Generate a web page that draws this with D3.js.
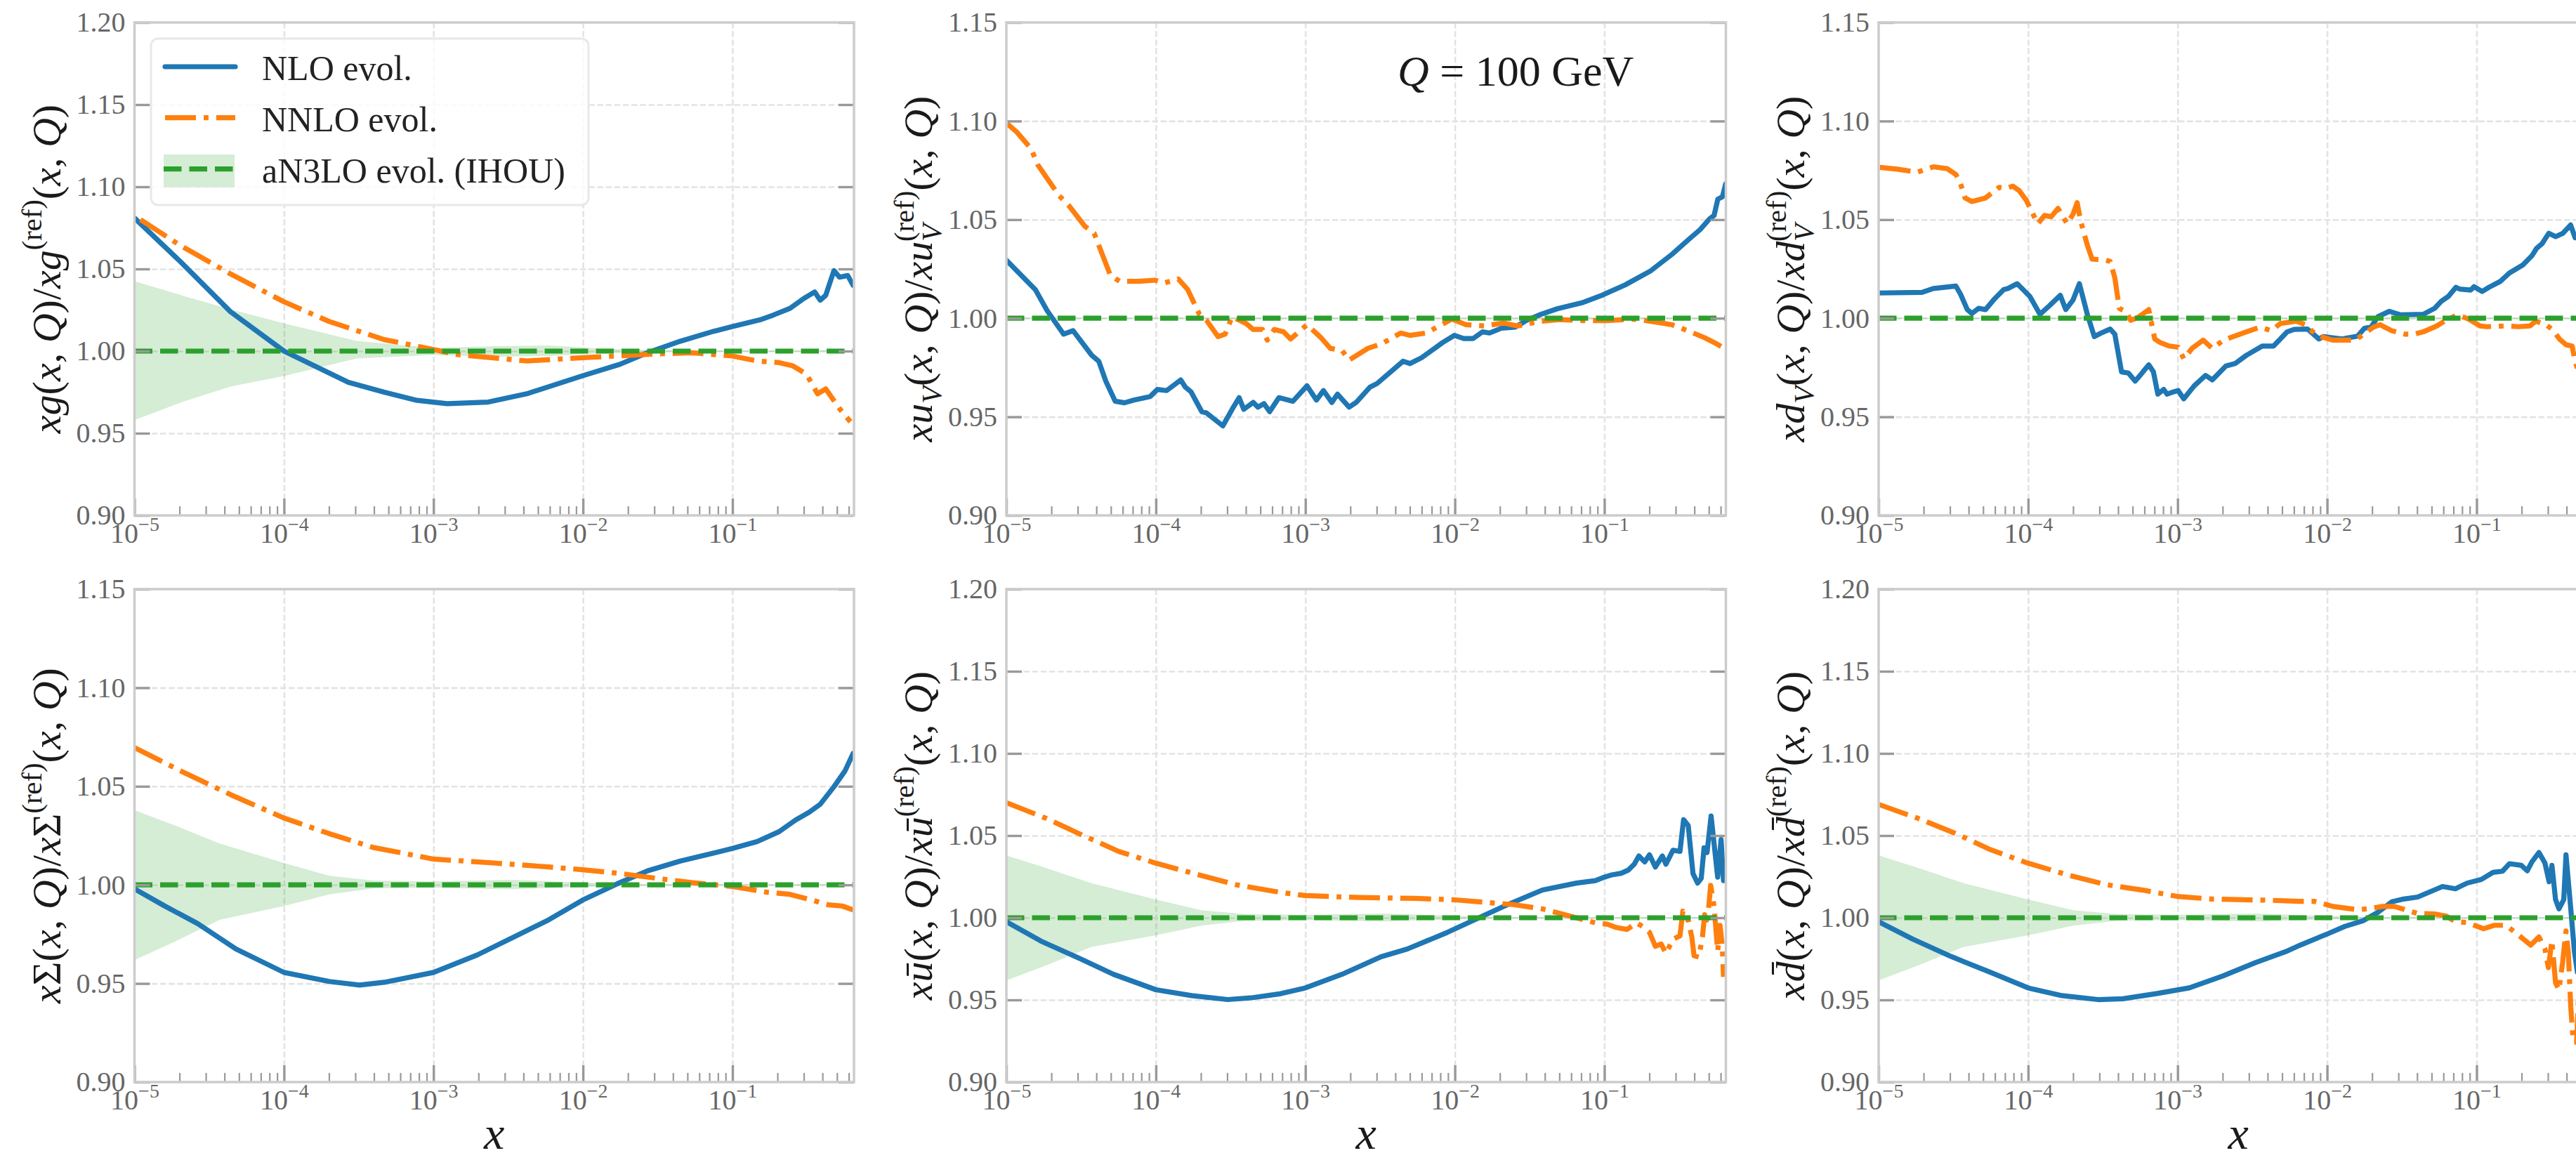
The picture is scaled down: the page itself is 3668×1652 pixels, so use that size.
<!DOCTYPE html>
<html>
<head>
<meta charset="utf-8">
<script src="https://cdn.jsdelivr.net/npm/d3@7"></script>
<style>
body { margin: 0; background: #fff; }
svg { display: block; }
</style>
</head>
<body>
<svg id="fig"></svg>
<script>

// --- xg ---
const xg_NLO = [[-5,1.081],[-4.688,1.054],[-4.358,1.024],[-4.0,1.0],[-3.569,0.981],[-3.33,0.975],[-3.11,0.970],[-2.908,0.968],[-2.633,0.969],[-2.376,0.974],[-2.002,0.985],[-1.752,0.992],[-1.569,0.999],[-1.349,1.006],[-1.128,1.012],[-1.0,1.015],[-0.817,1.019],[-0.725,1.022],[-0.615,1.026],[-0.523,1.032],[-0.45,1.036],[-0.413,1.031],[-0.376,1.034],[-0.321,1.049],[-0.284,1.045],[-0.229,1.046],[-0.193,1.040]];
const xg_NNLO = [[-4.96,1.080],[-4.688,1.064],[-4.358,1.047],[-4.0,1.030],[-3.697,1.018],[-3.33,1.007],[-3.0,1.001],[-2.853,0.998],[-2.376,0.994],[-2.0,0.996],[-1.569,0.998],[-1.275,0.999],[-1.0,0.997],[-0.835,0.994],[-0.688,0.993],[-0.596,0.991],[-0.505,0.986],[-0.431,0.974],[-0.376,0.977],[-0.284,0.965],[-0.211,0.957]];
const xg_band = [[-5,0.958,1.0425],[-4.688,0.9688,1.034],[-4.358,0.9784,1.0254],[-4.0,0.9848,1.0169],[-3.514,0.9955,1.0062],[-3.0,0.9976,1.0019],[-2.596,0.9966,1.003],[-2.229,0.997,1.0034],[-1.862,0.9987,1.0015],[-1.495,0.9996,1.0004],[-0.187,0.9996,1.0004]];

// --- xuV ---
const uV_NLO = [[-5,1.0294],[-4.806,1.0145],[-4.727,1.0038],[-4.617,0.9919],[-4.554,0.9937],[-4.429,0.9812],[-4.382,0.9782],[-4.335,0.9681],[-4.272,0.9579],[-4.21,0.9571],[-4.147,0.9585],[-4.038,0.9603],[-3.99,0.9639],[-3.928,0.9633],[-3.834,0.9687],[-3.803,0.9651],[-3.765,0.9627],[-3.693,0.9526],[-3.662,0.952],[-3.552,0.9454],[-3.49,0.9538],[-3.443,0.9597],[-3.412,0.9538],[-3.349,0.9573],[-3.318,0.9549],[-3.277,0.9567],[-3.239,0.9526],[-3.177,0.9597],[-3.083,0.9579],[-2.989,0.9657],[-2.926,0.9585],[-2.879,0.9633],[-2.823,0.9573],[-2.785,0.9615],[-2.707,0.9549],[-2.66,0.9573],[-2.567,0.9651],[-2.52,0.9669],[-2.347,0.9782],[-2.3,0.977],[-2.222,0.98],[-2.081,0.9877],[-2.003,0.9913],[-1.941,0.9897],[-1.878,0.9897],[-1.815,0.9931],[-1.768,0.9925],[-1.69,0.9949],[-1.596,0.9955],[-1.518,0.999],[-1.424,1.002],[-1.315,1.0048],[-1.142,1.008],[-1.017,1.0116],[-0.861,1.0169],[-0.689,1.0241],[-0.548,1.0324],[-0.423,1.0408],[-0.36,1.0449],[-0.297,1.0503],[-0.266,1.0521],[-0.241,1.0604],[-0.21,1.0616],[-0.188,1.0682]];
const uV_NNLO = [[-4.994,1.0986],[-4.93,1.0944],[-4.836,1.0861],[-4.789,1.0777],[-4.648,1.0622],[-4.585,1.0574],[-4.476,1.0467],[-4.413,1.0431],[-4.304,1.0217],[-4.241,1.0187],[-4.116,1.0187],[-4.006,1.0193],[-3.943,1.0179],[-3.85,1.0199],[-3.787,1.0145],[-3.709,1.002],[-3.662,0.999],[-3.584,0.9907],[-3.537,0.9919],[-3.49,1.0008],[-3.396,0.9973],[-3.349,0.9943],[-3.287,0.9943],[-3.255,0.9889],[-3.208,0.9943],[-3.146,0.9931],[-3.099,0.9895],[-2.989,0.9967],[-2.895,0.9901],[-2.833,0.9847],[-2.754,0.9836],[-2.707,0.9788],[-2.582,0.9847],[-2.488,0.9871],[-2.363,0.9925],[-2.3,0.9913],[-2.191,0.9925],[-2.019,0.9996],[-1.925,0.9967],[-1.8,0.9961],[-1.675,0.9976],[-1.581,0.9961],[-1.424,0.9985],[-1.299,0.9993],[-1.142,0.9988],[-0.986,0.9988],[-0.798,0.9996],[-0.642,0.9979],[-0.548,0.9967],[-0.423,0.9931],[-0.329,0.9901],[-0.266,0.9877],[-0.197,0.9847]];

// --- xdV ---
const dV_NLO = [[-5,1.0128],[-4.71,1.0131],[-4.634,1.0151],[-4.483,1.0163],[-4.452,1.0122],[-4.407,1.0044],[-4.376,1.0024],[-4.331,1.005],[-4.285,1.0044],[-4.225,1.0098],[-4.164,1.0145],[-4.134,1.0151],[-4.073,1.0175],[-3.988,1.011],[-3.921,1.002],[-3.86,1.0062],[-3.785,1.0116],[-3.748,1.0044],[-3.7,1.0092],[-3.657,1.0175],[-3.602,1.0014],[-3.557,0.9907],[-3.511,0.9925],[-3.451,0.9945],[-3.42,0.9919],[-3.375,0.9728],[-3.329,0.9722],[-3.284,0.9681],[-3.238,0.9722],[-3.193,0.9764],[-3.162,0.9728],[-3.132,0.9615],[-3.093,0.9639],[-3.071,0.9615],[-3.026,0.9627],[-2.996,0.9633],[-2.959,0.9591],[-2.889,0.9657],[-2.813,0.971],[-2.768,0.9687],[-2.677,0.9758],[-2.616,0.977],[-2.54,0.9812],[-2.434,0.9859],[-2.358,0.9859],[-2.267,0.9931],[-2.221,0.9943],[-2.131,0.9945],[-2.055,0.9895],[-2.024,0.9907],[-1.964,0.9901],[-1.903,0.9895],[-1.797,0.9909],[-1.751,0.9949],[-1.706,0.9955],[-1.66,1.0008],[-1.584,1.0035],[-1.508,1.0017],[-1.357,1.002],[-1.281,1.005],[-1.236,1.0086],[-1.19,1.011],[-1.138,1.0157],[-1.114,1.0148],[-1.039,1.0143],[-1.017,1.016],[-0.962,1.0136],[-0.917,1.0157],[-0.841,1.0187],[-0.781,1.0229],[-0.689,1.0271],[-0.629,1.0318],[-0.599,1.0354],[-0.562,1.0378],[-0.517,1.0431],[-0.471,1.0414],[-0.423,1.0431],[-0.371,1.0473],[-0.341,1.0408],[-0.3,1.0431]];
const dV_NNLO = [[-4.992,1.0765],[-4.877,1.0756],[-4.741,1.0741],[-4.634,1.0768],[-4.543,1.0759],[-4.483,1.0729],[-4.452,1.0682],[-4.422,1.061],[-4.376,1.0592],[-4.285,1.061],[-4.194,1.0664],[-4.149,1.0658],[-4.103,1.067],[-4.058,1.0646],[-4.012,1.0598],[-3.936,1.0479],[-3.891,1.0521],[-3.845,1.0515],[-3.8,1.0557],[-3.739,1.0479],[-3.7,1.0527],[-3.672,1.0586],[-3.648,1.0491],[-3.602,1.0366],[-3.572,1.03],[-3.481,1.0294],[-3.451,1.0288],[-3.42,1.0205],[-3.39,1.005],[-3.344,1.0032],[-3.314,0.999],[-3.269,1.0002],[-3.193,1.0044],[-3.153,0.9895],[-3.117,0.9877],[-3.056,0.9859],[-2.995,0.9853],[-2.959,0.9794],[-2.904,0.9847],[-2.829,0.9889],[-2.768,0.9847],[-2.692,0.9889],[-2.54,0.9931],[-2.449,0.9955],[-2.373,0.9937],[-2.313,0.9973],[-2.206,0.9985],[-2.146,0.9967],[-2.07,0.9913],[-1.964,0.9889],[-1.812,0.9889],[-1.766,0.9913],[-1.69,0.9955],[-1.645,0.9967],[-1.569,0.9937],[-1.478,0.9919],[-1.417,0.9919],[-1.357,0.9931],[-1.266,0.9961],[-1.205,0.999],[-1.129,1.0017],[-1.053,0.9996],[-0.977,0.9961],[-0.932,0.9957],[-0.811,0.9961],[-0.719,0.9957],[-0.643,0.9961],[-0.604,0.9985],[-0.537,0.9967],[-0.492,0.9943],[-0.446,0.9895],[-0.401,0.9865],[-0.361,0.9859],[-0.34,0.9776],[-0.3,0.9692]];
const valence_band = [[-5,0.9996,1.0004],[-0.187,0.9996,1.0004]];

// --- xSigma ---
const Sigma_NLO = [[-5,0.998],[-4.798,0.9893],[-4.578,0.9804],[-4.321,0.9675],[-4.0,0.9556],[-3.697,0.951],[-3.495,0.9492],[-3.33,0.9506],[-3.0,0.9556],[-2.706,0.9645],[-2.413,0.9754],[-2.229,0.9823],[-2.002,0.9923],[-1.752,1.0012],[-1.569,1.0071],[-1.349,1.0121],[-1.128,1.0161],[-1.0,1.0185],[-0.835,1.022],[-0.688,1.027],[-0.578,1.0329],[-0.486,1.0369],[-0.413,1.0409],[-0.321,1.0498],[-0.248,1.0577],[-0.193,1.0667]];
const Sigma_NNLO = [[-5,1.0696],[-4.688,1.0577],[-4.358,1.0458],[-4.0,1.0339],[-3.697,1.026],[-3.404,1.019],[-3.0,1.0131],[-2.596,1.0111],[-2.229,1.0091],[-2.002,1.0077],[-1.752,1.0058],[-1.495,1.0032],[-1.275,1.0012],[-1.0,0.9992],[-0.762,0.9962],[-0.615,0.9952],[-0.468,0.9923],[-0.358,0.9899],[-0.266,0.9893],[-0.193,0.9873]];
const sea_band = [[-5,0.9619,1.0379],[-4.725,0.9714,1.030],[-4.431,0.9823,1.021],[-4.0,0.9893,1.0111],[-3.697,0.9952,1.0046],[-3.404,0.9982,1.0022],[-3.0,0.9986,1.0018],[-2.486,0.9978,1.0026],[-2.0,0.999,1.0012],[-1.679,0.9996,1.0004],[-0.187,0.9996,1.0004]];

// --- xubar ---
const ubar_NLO = [[-5,0.9976],[-4.769,0.9858],[-4.507,0.9751],[-4.284,0.9656],[-4.0,0.9562],[-3.761,0.9526],[-3.519,0.9502],[-3.351,0.9514],[-3.164,0.9538],[-3.0,0.9573],[-2.754,0.9656],[-2.493,0.9763],[-2.318,0.981],[-2.05,0.9911],[-1.846,0.9997],[-1.657,1.0076],[-1.414,1.0169],[-1.186,1.0211],[-1.06,1.0226],[-1.0,1.0247],[-0.95,1.0261],[-0.887,1.0271],[-0.84,1.029],[-0.8,1.0326],[-0.769,1.0376],[-0.73,1.034],[-0.698,1.0383],[-0.659,1.0309],[-0.612,1.0376],[-0.588,1.0326],[-0.541,1.0411],[-0.494,1.0404],[-0.47,1.0597],[-0.439,1.0561],[-0.407,1.0269],[-0.376,1.0211],[-0.352,1.024],[-0.333,1.0426],[-0.313,1.0397],[-0.286,1.0619],[-0.242,1.0247],[-0.219,1.0476],[-0.203,1.0226]];
const ubar_NNLO = [[-5,1.070],[-4.731,1.0604],[-4.507,1.0509],[-4.246,1.0403],[-4.0,1.0332],[-3.761,1.0273],[-3.463,1.0201],[-3.164,1.0154],[-3.0,1.0135],[-2.642,1.0123],[-2.269,1.0118],[-2.0,1.0109],[-1.61,1.008],[-1.414,1.0054],[-1.233,1.0011],[-1.06,0.9969],[-0.981,0.9961],[-0.918,0.994],[-0.848,0.9929],[-0.785,0.9969],[-0.745,0.9947],[-0.698,0.9911],[-0.659,0.9826],[-0.62,0.984],[-0.588,0.9783],[-0.541,0.9869],[-0.494,0.989],[-0.475,1.004],[-0.439,0.9983],[-0.415,0.9883],[-0.4,0.9769],[-0.368,0.9761],[-0.344,0.9883],[-0.329,1.0019],[-0.313,0.9954],[-0.289,1.0197],[-0.266,1.0069],[-0.242,0.9797],[-0.226,0.9954],[-0.211,0.9826],[-0.203,0.964]];

// --- xdbar ---
const dbar_NLO = [[-5,0.9976],[-4.771,0.987],[-4.512,0.9763],[-4.253,0.9668],[-4.0,0.9573],[-3.773,0.9526],[-3.532,0.9502],[-3.366,0.9507],[-3.144,0.9538],[-2.922,0.9573],[-2.7,0.9645],[-2.479,0.9727],[-2.276,0.9794],[-2.181,0.9833],[-1.992,0.9904],[-1.882,0.9947],[-1.756,0.9983],[-1.661,1.0033],[-1.567,1.0097],[-1.488,1.0114],[-1.394,1.0126],[-1.283,1.0169],[-1.228,1.019],[-1.142,1.0176],[-1.063,1.0211],[-0.969,1.0233],[-0.89,1.0276],[-0.827,1.0283],[-0.78,1.0329],[-0.701,1.0319],[-0.661,1.0286],[-0.63,1.034],[-0.583,1.0397],[-0.543,1.0333],[-0.515,1.0219],[-0.496,1.0319],[-0.472,1.0111],[-0.449,1.0054],[-0.417,1.0111],[-0.402,1.0383],[-0.37,1.0054],[-0.346,0.9797],[-0.326,0.9669],[-0.307,0.9854],[-0.295,1.047]];
const dbar_NNLO = [[-5,1.069],[-4.734,1.0604],[-4.475,1.0509],[-4.253,1.0415],[-4.0,1.0332],[-3.736,1.0261],[-3.477,1.0201],[-3.218,1.0166],[-3.004,1.013],[-2.774,1.0114],[-2.405,1.0107],[-2.183,1.01],[-2.087,1.01],[-1.961,1.0069],[-1.803,1.005],[-1.724,1.0054],[-1.63,1.0069],[-1.551,1.0069],[-1.394,1.0026],[-1.283,1.0023],[-1.205,1.0011],[-1.142,0.9976],[-1.063,0.9971],[-0.953,0.9933],[-0.882,0.9954],[-0.803,0.9954],[-0.732,0.9904],[-0.638,0.9833],[-0.583,0.9883],[-0.543,0.9811],[-0.52,0.9697],[-0.496,0.9861],[-0.472,0.9604],[-0.449,0.9561],[-0.425,0.9726],[-0.402,0.9919],[-0.386,0.9783],[-0.37,0.9454],[-0.354,0.9254],[-0.331,0.924],[-0.315,0.9597],[-0.295,0.9683]];

const yTicksA = [0.90, 0.95, 1.00, 1.05, 1.10, 1.15, 1.20];
const yTicksB = [0.90, 0.95, 1.00, 1.05, 1.10, 1.15];
const xMajor = [1e-5, 1e-4, 1e-3, 1e-2, 1e-1];
const legendNames = ["NLO evol.", "NNLO evol.", "aN3LO evol. (IHOU)"];

const width = 3668, height = 1652;
const colX = [191.5, 1433, 2675];
const rowY = [32, 839];
const pw = 1024.5, ph = 702;
const xDom = [1e-5, 0.65];

const cNLO = "#1f77b4", cNNLO = "#ff7f0e", cN3LO = "#2ca02c";
const serif = "'Liberation Serif','DejaVu Serif',serif";
const lw = 7.2;
const labelSize = 58;

var svg = d3.select("#fig").attr("width", width).attr("height", height);
svg.append("rect").attr("width", width).attr("height", height).attr("fill", "#fff");

// label pieces: [text, italic, size, offset, dx]
function lab(sym, sub) {
  var p = [];
  sym.forEach(function(s) { p.push([s[0], s[1], 1, 0]); });
  if (sub) p.push([sub, true, 0.7, 0.22]);
  p.push(["(", false, 1, 0], ["x", true, 1, 0], [", ", false, 1, 0], ["Q", true, 1, 0], [")", false, 1, 0], ["/", false, 1, 0]);
  sym.forEach(function(s) { p.push([s[0], s[1], 1, 0]); });
  if (sub) {
    p.push([sub, true, 0.7, 0.22]);
    p.push(["(ref)", false, 0.7, -0.45, -0.43]);
  } else {
    p.push(["(ref)", false, 0.7, -0.45]);
  }
  p.push(["(", false, 1, 0], ["x", true, 1, 0], [", ", false, 1, 0], ["Q", true, 1, 0], [")", false, 1, 0]);
  return p;
}

var panels = [
  {r: 0, c: 0, yd: [0.90, 1.20], yt: yTicksA, nlo: xg_NLO, nnlo: xg_NNLO, band: xg_band, label: lab([["x", true], ["g", true]])},
  {r: 0, c: 1, yd: [0.90, 1.15], yt: yTicksB, nlo: uV_NLO, nnlo: uV_NNLO, band: valence_band, label: lab([["x", true], ["u", true]], "V")},
  {r: 0, c: 2, yd: [0.90, 1.15], yt: yTicksB, nlo: dV_NLO, nnlo: dV_NNLO, band: valence_band, label: lab([["x", true], ["d", true]], "V")},
  {r: 1, c: 0, yd: [0.90, 1.15], yt: yTicksB, nlo: Sigma_NLO, nnlo: Sigma_NNLO, band: sea_band, label: lab([["x", true], ["\u03A3", false]])},
  {r: 1, c: 1, yd: [0.90, 1.20], yt: yTicksA, nlo: ubar_NLO, nnlo: ubar_NNLO, band: sea_band, label: lab([["x", true], ["u\u0304", true]])},
  {r: 1, c: 2, yd: [0.90, 1.20], yt: yTicksA, nlo: dbar_NLO, nnlo: dbar_NNLO, band: sea_band, label: lab([["x", true], ["d\u0304", true]])}
];

var minorTicks = [];
for (var e = -5; e <= -1; e++) {
  for (var k = 2; k <= 9; k++) {
    var v = k * Math.pow(10, e);
    if (v <= xDom[1]) minorTicks.push(v);
  }
}

panels.forEach(function(p, i) {
  var left = colX[p.c], top = rowY[p.r];
  var x = d3.scaleLog().domain(xDom).range([0, pw]);
  var y = d3.scaleLinear().domain(p.yd).range([ph, 0]);
  var g = svg.append("g").attr("transform", "translate(" + left + "," + top + ")");

  var cid = "clip" + i;
  g.append("clipPath").attr("id", cid).append("rect").attr("width", pw).attr("height", ph);

  // grid
  g.append("g").attr("class", "grid")
    .call(d3.axisBottom(x).tickValues(xMajor.slice(1)).tickSize(ph).tickFormat(""));
  g.append("g").attr("class", "grid")
    .call(d3.axisLeft(y).tickValues(p.yt.slice(1, -1)).tickSize(-pw).tickFormat(""));
  g.selectAll(".grid .domain").remove();
  g.selectAll(".grid line").attr("stroke", "#e3e3e3").attr("stroke-width", 2.6).attr("stroke-dasharray", "8.5 3.7");

  var lx = function(d) { return x(Math.pow(10, d[0])); };
  var plot = g.append("g").attr("clip-path", "url(#" + cid + ")");

  plot.append("path").datum(p.band)
    .attr("d", d3.area().x(lx).y0(function(d) { return y(d[1]); }).y1(function(d) { return y(d[2]); }))
    .attr("fill", cN3LO).attr("fill-opacity", 0.2);

  var line = d3.line().x(lx).y(function(d) { return y(d[1]); });
  plot.append("path").datum(p.nlo).attr("d", line)
    .attr("fill", "none").attr("stroke", cNLO).attr("stroke-width", lw)
    .attr("stroke-linejoin", "round").attr("stroke-linecap", "round");
  plot.append("path").datum(p.nnlo).attr("d", line)
    .attr("fill", "none").attr("stroke", cNNLO).attr("stroke-width", lw)
    .attr("stroke-dasharray", "44 11 6.9 11").attr("stroke-linejoin", "round");
  plot.append("path").datum([[Math.log10(xDom[0]), 1], [Math.log10(xDom[1]), 1]]).attr("d", line)
    .attr("fill", "none").attr("stroke", cN3LO).attr("stroke-width", lw)
    .attr("stroke-dasharray", "25.5 11");

  // ticks (inward)
  var tickCol = "#999";
  var ax = g.append("g").attr("transform", "translate(0," + ph + ")")
    .call(d3.axisBottom(x).tickValues(xMajor).tickSizeInner(-24).tickSizeOuter(0).tickFormat(""));
  var axm = g.append("g").attr("transform", "translate(0," + ph + ")")
    .call(d3.axisBottom(x).tickValues(minorTicks).tickSizeInner(-13).tickSizeOuter(0).tickFormat(""));
  ax.selectAll("line").attr("stroke", tickCol).attr("stroke-width", 3.4);
  axm.selectAll("line").attr("stroke", tickCol).attr("stroke-width", 2.2);
  ax.selectAll(".tick").append("text")
    .attr("y", 39).attr("text-anchor", "middle").attr("fill", "#666")
    .attr("font-family", serif).attr("font-size", 40)
    .each(function(d) {
      var t = d3.select(this);
      t.append("tspan").text("10");
      t.append("tspan").attr("dy", -17).attr("font-size", 28).text("\u2212" + Math.round(-Math.log10(d)));
    });

  var ay = g.append("g")
    .call(d3.axisLeft(y).tickValues(p.yt).tickSizeInner(-22).tickSizeOuter(0).tickPadding(13).tickFormat(d3.format(".2f")));
  var ay2 = g.append("g").attr("transform", "translate(" + pw + ",0)")
    .call(d3.axisRight(y).tickValues(p.yt).tickSizeInner(-22).tickSizeOuter(0).tickFormat(""));
  [ax, axm, ay, ay2].forEach(function(a) { a.select(".domain").remove(); });
  ay.selectAll("line").attr("stroke", tickCol).attr("stroke-width", 3.4);
  ay2.selectAll("line").attr("stroke", tickCol).attr("stroke-width", 3.4);
  ay.selectAll("text").attr("fill", "#666").attr("font-family", serif).attr("font-size", 40);

  // frame
  g.append("rect").attr("width", pw).attr("height", ph)
    .attr("fill", "none").attr("stroke", "#cccccc").attr("stroke-width", 3.5);

  // y label
  var yl = g.append("text")
    .attr("transform", "translate(-106," + (ph / 2) + ") rotate(-90)")
    .attr("text-anchor", "middle").attr("font-family", serif).attr("font-size", labelSize).attr("fill", "#1a1a1a");
  var cur = 0;
  p.label.forEach(function(s) {
    var off = s[3] * labelSize;
    var ts = yl.append("tspan").text(s[0])
      .attr("font-style", s[1] ? "italic" : "normal")
      .attr("font-size", labelSize * s[2])
      .attr("dy", off - cur);
    if (s[4]) ts.attr("dx", s[4] * labelSize);
    cur = off;
  });

  if (p.r === 1) {
    g.append("text").attr("x", pw / 2).attr("y", 1636 - top)
      .attr("text-anchor", "middle").attr("font-family", serif).attr("font-style", "italic")
      .attr("font-size", 66).attr("fill", "#1a1a1a").text("x");
  }

  if (i === 0) {
    var lg = g.append("g").attr("transform", "translate(" + (215 - left) + "," + (55 - top) + ")");
    lg.append("rect").attr("width", 623).attr("height", 237).attr("rx", 10)
      .attr("fill", "#fff").attr("fill-opacity", 0.8).attr("stroke", "#e8e8e8").attr("stroke-width", 3);
    var rows = [40, 112.7, 185.7];
    lg.append("line").attr("x1", 20).attr("x2", 120).attr("y1", rows[0]).attr("y2", rows[0])
      .attr("stroke", cNLO).attr("stroke-width", lw).attr("stroke-linecap", "round");
    lg.append("line").attr("x1", 20).attr("x2", 120).attr("y1", rows[1]).attr("y2", rows[1])
      .attr("stroke", cNNLO).attr("stroke-width", lw).attr("stroke-dasharray", "44 11 6.9 11");
    lg.append("rect").attr("x", 18).attr("y", 165).attr("width", 101).attr("height", 46.7)
      .attr("fill", cN3LO).attr("fill-opacity", 0.2);
    lg.append("line").attr("x1", 18).attr("x2", 119).attr("y1", rows[2]).attr("y2", rows[2])
      .attr("stroke", cN3LO).attr("stroke-width", lw).attr("stroke-dasharray", "25.5 11");
    legendNames.forEach(function(n, j) {
      lg.append("text").attr("x", 158).attr("y", rows[j] + 19)
        .attr("font-family", serif).attr("font-size", 50).attr("fill", "#222").text(n);
    });
  }

  if (i === 1) {
    var qt = g.append("text").attr("x", 1990 - left).attr("y", 122 - top)
      .attr("font-family", serif).attr("font-size", 62).attr("fill", "#1a1a1a");
    qt.append("tspan").attr("font-style", "italic").text("Q");
    qt.append("tspan").text(" = 100 GeV");
  }
});
</script>
</body>
</html>
